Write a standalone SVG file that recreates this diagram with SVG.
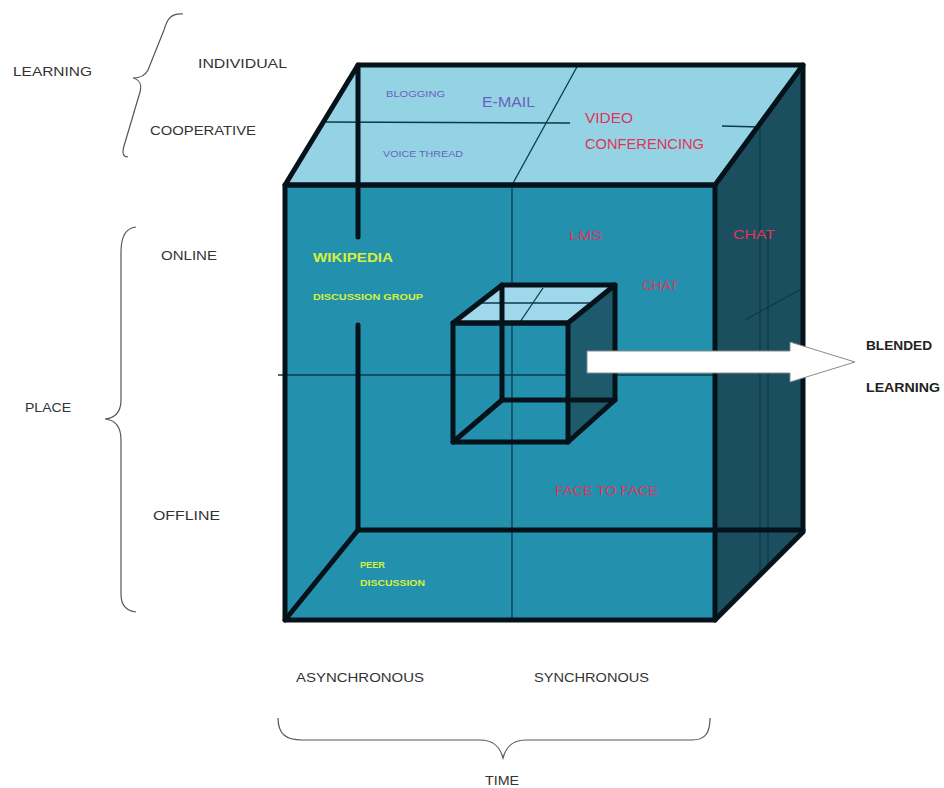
<svg xmlns="http://www.w3.org/2000/svg" width="944" height="788" viewBox="0 0 944 788">
<style>
text{font-family:"Liberation Sans","Open Sans",sans-serif;}
.lbl{fill:#333;font-size:13px;}
.hd{fill:#222;font-size:13px;font-weight:bold;}
.thick{stroke:#05121a;stroke-width:5;fill:none;stroke-linecap:round;stroke-linejoin:round;}
.thin{stroke:#0b3a4a;stroke-width:1.3;fill:none;}
.brace{stroke:#555;stroke-width:1.2;fill:none;}
.red{fill:#e0345a;}
.blue{fill:#6a5fc0;}
.yel{fill:#d8f03a;font-weight:bold;}
</style>
<rect width="944" height="788" fill="#fff"/>

<g id="outer-cube">
  <rect x="285" y="185" width="430" height="435" fill="#2391ae"/>
  <polygon points="285,185 358,65 803,65 715,185" fill="#93d3e4"/>
  <polygon points="715,185 803,65 803,532 715,620" fill="#1b4f5f"/>
  <g class="thin">
    <line x1="278" y1="375" x2="715" y2="375"/>
    <line x1="512" y1="185" x2="512" y2="620"/>
    <line x1="578" y1="65" x2="512" y2="185"/>
    <line x1="322" y1="122" x2="570" y2="123"/>
    <line x1="722" y1="126" x2="760" y2="127"/>
    <line x1="760" y1="127" x2="760" y2="575"/>
    <line x1="768" y1="232" x2="768" y2="567"/>
    <line x1="745" y1="320" x2="803" y2="288"/>
  </g>
  <g class="thick">
    <line x1="358" y1="65" x2="358" y2="237"/>
    <line x1="358" y1="325" x2="358" y2="530"/>
    <line x1="358" y1="530" x2="803" y2="530"/>
    <line x1="285" y1="620" x2="358" y2="530"/>
    <polygon points="285,185 358,65 803,65 715,185"/>
    <rect x="285" y="185" width="430" height="435"/>
    <polyline points="803,65 803,532 715,620"/>
  </g>
</g>

<g id="inner-cube">
  <polygon points="453,323 502,285 615,285 568,323" fill="#9fd8ea"/>
  <polygon points="568,323 615,285 615,400 568,442" fill="#1d5a6b"/>
  <g class="thin">
    <line x1="476" y1="303" x2="590" y2="303"/>
    <line x1="543" y1="288" x2="520" y2="322"/>
  </g>
  <g class="thick">
    <line x1="502" y1="285" x2="502" y2="400"/>
    <line x1="502" y1="400" x2="615" y2="400"/>
    <line x1="453" y1="442" x2="502" y2="400"/>
    <polygon points="453,323 502,285 615,285 568,323"/>
    <rect x="453" y="323" width="115" height="119"/>
    <polyline points="615,285 615,400 568,442"/>
  </g>
</g>

<g id="connectors">
  <polygon points="587,351 790,351 790,342 855,362 790,382 790,373 587,373" fill="#fff" stroke="#8a8a8a" stroke-width="1"/>
  <path class="brace" d="M183,14 C170,13 167,20 164,30 L148,70 C145,76 140,78 133,78 C140,80 142,84 140,92 L124,146 C122,153 123,157 128,157"/>
  <path class="brace" d="M136,227 C126,228 121,236 121,252 L121,400 C121,412 115,418 105,419 C115,420 121,427 121,440 L121,594 C121,605 126,611 136,612"/>
  <path class="brace" d="M278,718 C278,734 286,740 302,740 L480,740 C494,740 500,747 503,758 C506,747 512,740 526,740 L692,740 C706,740 710,732 710,718"/>
</g>

<g id="labels">
  <text class="lbl" x="13" y="76" textLength="79" lengthAdjust="spacingAndGlyphs">LEARNING</text>
  <text class="lbl" x="198" y="68" textLength="89" lengthAdjust="spacingAndGlyphs">INDIVIDUAL</text>
  <text class="lbl" x="150" y="135" textLength="106" lengthAdjust="spacingAndGlyphs">COOPERATIVE</text>
  <text class="lbl" x="161" y="260" textLength="56" lengthAdjust="spacingAndGlyphs">ONLINE</text>
  <text class="lbl" x="25" y="412" textLength="46" lengthAdjust="spacingAndGlyphs">PLACE</text>
  <text class="lbl" x="153" y="520" textLength="67" lengthAdjust="spacingAndGlyphs">OFFLINE</text>
  <text class="lbl" x="296" y="682" textLength="128" lengthAdjust="spacingAndGlyphs">ASYNCHRONOUS</text>
  <text class="lbl" x="534" y="682" textLength="115" lengthAdjust="spacingAndGlyphs">SYNCHRONOUS</text>
  <text class="lbl" x="485" y="785" textLength="34" lengthAdjust="spacingAndGlyphs">TIME</text>
  <text class="hd" x="866" y="350" textLength="66" lengthAdjust="spacingAndGlyphs">BLENDED</text>
  <text class="hd" x="866" y="392" textLength="74" lengthAdjust="spacingAndGlyphs">LEARNING</text>
</g>

<g id="tools">
  <text class="blue" x="386" y="97" font-size="9" textLength="59" lengthAdjust="spacingAndGlyphs">BLOGGING</text>
  <text class="blue" x="482" y="107" font-size="15" textLength="53" lengthAdjust="spacingAndGlyphs">E-MAIL</text>
  <text class="blue" x="383" y="157" font-size="9" textLength="80" lengthAdjust="spacingAndGlyphs">VOICE THREAD</text>
  <text class="red" x="585" y="123" font-size="14" textLength="48" lengthAdjust="spacingAndGlyphs">VIDEO</text>
  <text class="red" x="585" y="149" font-size="14" textLength="119" lengthAdjust="spacingAndGlyphs">CONFERENCING</text>
  <text class="yel" x="313" y="262" font-size="13" textLength="80" lengthAdjust="spacingAndGlyphs">WIKIPEDIA</text>
  <text class="yel" x="313" y="300" font-size="8.5" textLength="110" lengthAdjust="spacingAndGlyphs">DISCUSSION GROUP</text>
  <text class="red" x="569" y="240" font-size="12" textLength="33" lengthAdjust="spacingAndGlyphs">LMS</text>
  <text class="red" x="642" y="290" font-size="12" textLength="36" lengthAdjust="spacingAndGlyphs">CHAT</text>
  <text class="red" x="733" y="239" font-size="12" textLength="42" lengthAdjust="spacingAndGlyphs">CHAT</text>
  <text class="red" x="555" y="495" font-size="12" textLength="103" lengthAdjust="spacingAndGlyphs">FACE TO FACE</text>
  <text class="yel" x="360" y="568" font-size="8.5" textLength="25" lengthAdjust="spacingAndGlyphs">PEER</text>
  <text class="yel" x="360" y="586" font-size="8.5" textLength="65" lengthAdjust="spacingAndGlyphs">DISCUSSION</text>
</g>
</svg>
